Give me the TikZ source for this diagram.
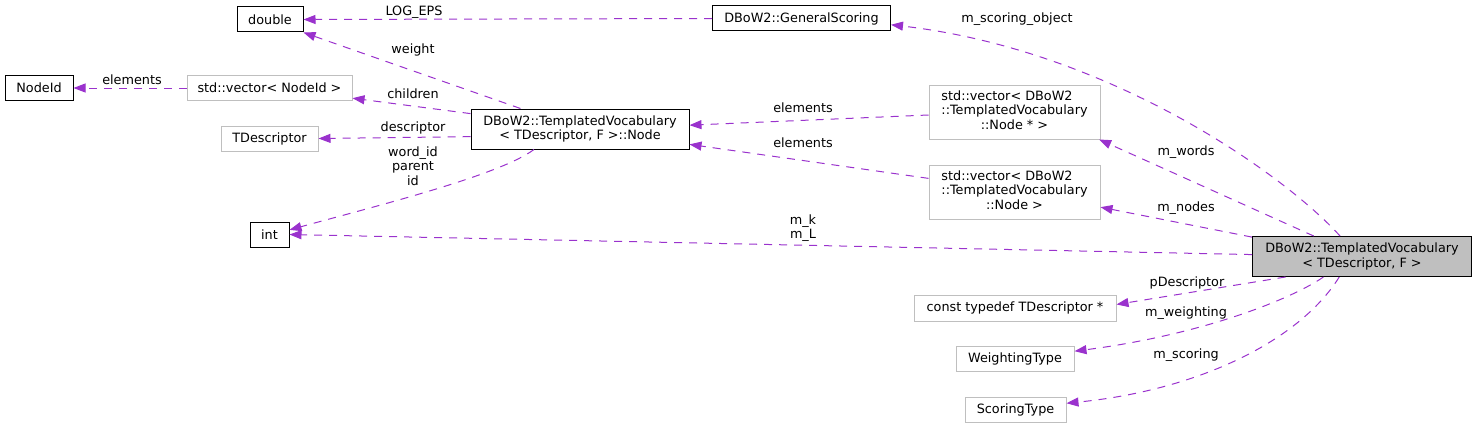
\documentclass[tikz,border=0pt]{standalone}
\usepackage{fontspec}
\setmainfont{DejaVu Sans}
\usepackage{xcolor}
\usetikzlibrary{arrows.meta}
\definecolor{edgepurple}{HTML}{9A32CD}
\definecolor{boxgray}{HTML}{BFBFBF}

\begin{document}
\begin{tikzpicture}[x=1pt, y=-1pt,
    font=\fontsize{12.8}{14.5}\selectfont,
    cls/.style={draw=black, line width=1pt, fill=white, inner sep=0pt, minimum height=25pt},
    ext/.style={cls, draw=boxgray},
    edge/.style={draw=edgepurple, line width=1pt, dash pattern=on 8pt off 7pt,
        -{Triangle[length=12pt, width=9pt]}},
    lbl/.style={inner sep=0pt, text=black, align=center}]
    \useasboundingbox (0,0) rectangle (1477,428);

    % classes
    \node[cls, minimum width=66pt] (double) at (270,19.5) {double};
    \node[cls, minimum width=178pt] (gscoring) at (801.5,18.5) {DBoW2::GeneralScoring};
    \node[cls, minimum width=68pt] (nodeid) at (39,88) {NodeId};
    \node[ext, minimum width=165pt] (vecnodeid) at (269.5,88) {std::vector< NodeId >};
    \node[ext, minimum width=97pt] (tdesc) at (269.5,138.5) {TDescriptor};
    \node[cls, minimum width=218pt, minimum height=40pt, align=center] (tvnode) at (580,129)
        {DBoW2::TemplatedVocabulary\\< TDescriptor, F >::Node};
    \node[cls, minimum width=39pt] (int) at (269.5,234.5) {int};
    \node[ext, minimum width=171pt, minimum height=54pt] (vecnodeptr) at (1014.5,112)
        {\begin{tabular}{@{}l@{}}std::vector< DBoW2\\::TemplatedVocabulary\\\multicolumn{1}{@{}c@{}}{::Node * >}\end{tabular}};
    \node[ext, minimum width=171pt, minimum height=54pt] (vecnode) at (1014.5,192)
        {\begin{tabular}{@{}l@{}}std::vector< DBoW2\\::TemplatedVocabulary\\\multicolumn{1}{@{}c@{}}{::Node >}\end{tabular}};
    \node[cls, fill=boxgray, minimum width=219pt, minimum height=40pt, align=center] (main) at (1362,256.5)
        {DBoW2::TemplatedVocabulary\\< TDescriptor, F >};
    \node[ext, minimum width=202pt, minimum height=26pt] (ctd) at (1015,308) {const typedef TDescriptor *};
    \node[ext, minimum width=118pt] (wtype) at (1015,358.5) {WeightingType};
    \node[ext, minimum width=101pt] (stype) at (1015.5,409.5) {ScoringType};

    % usage relations
    \draw[edge] (gscoring.west) -- (double.east) node[lbl] at (414,12) {LOG\_EPS};
    \draw[edge] (tvnode.161.6) -- (double.south east) node[lbl] at (413,50) {weight};
    \draw[edge] (vecnodeid.west) -- (nodeid.east) node[lbl] at (132,80) {elements};
    \draw[edge] (tvnode.172.7) -- (vecnodeid.-7.6) node[lbl] at (413,94) {children};
    \draw[edge] (tvnode.184.2) -- (tdesc.east) node[lbl] at (413,128) {descriptor};
    \draw[edge] (tvnode.204.9) .. controls (500,175) and (380,205) .. (int.13)
        node[lbl] at (413,166) {word\_id\\parent\\id};
    \draw[edge] (vecnodeptr.182) -- (tvnode.2.1) node[lbl] at (803,108) {elements};
    \draw[edge] (vecnode.171.4) -- (tvnode.-8.35) node[lbl] at (803,143) {elements};
    \draw[edge] (main.137.7) .. controls (1285,175) and (1110,50) .. (gscoring.-4.2)
        node[lbl] at (1017,19) {m\_scoring\_object};
    \draw[edge] (main.157.8) -- (vecnodeptr.-18.1) node[lbl] at (1186,152) {m\_words};
    \draw[edge] (main.170.4) -- (vecnode.-10.6) node[lbl] at (1186,208) {m\_nodes};
    \draw[edge] (main.179.2) -- (int.east) node[lbl] at (803,228) {m\_k\\m\_L};
    \draw[edge] (main.195.5) -- (ctd.2.8) node[lbl] at (1187,283) {pDescriptor};
    \draw[edge] (main.208.4) .. controls (1290,300) and (1200,335) .. (wtype.7.2)
        node[lbl] at (1186,313) {m\_weighting};
    \draw[edge] (main.222.3) .. controls (1300,340) and (1200,390) .. (stype.7.3)
        node[lbl] at (1186,355) {m\_scoring};
\end{tikzpicture}
\end{document}
